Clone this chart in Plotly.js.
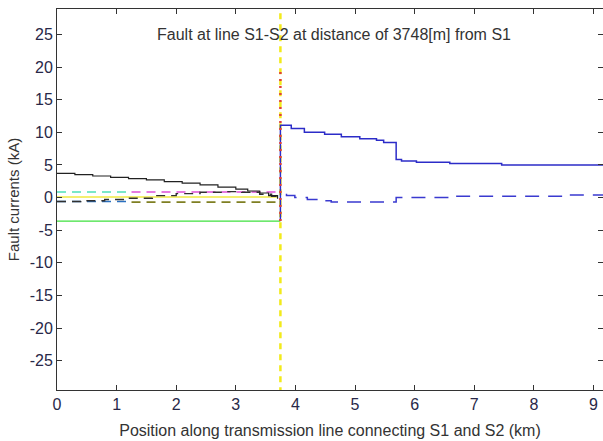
<!DOCTYPE html>
<html>
<head>
<meta charset="utf-8">
<script src="https://cdn.plot.ly/plotly-3.0.1.min.js"></script>
<style>html,body{margin:0;padding:0;background:#fff;}#chart{width:603px;height:441px;}</style>
</head>
<body>
<div id="chart"></div>
<script>
// Fault location (km)
const faultX = 3.748;

// Left section (S1 side) series
const blackX = [0, 0.3, 0.6, 0.9, 1.2, 1.5, 1.8, 2.1, 2.4, 2.7, 3.0, 3.2, 3.4, 3.55, 3.7];
const blackY = [3.7, 3.5, 3.3, 3.1, 2.9, 2.7, 2.45, 2.2, 1.95, 1.6, 1.3, 1.0, 0.7, 0.3, -0.2];

const blackDashX = [0, 0.4, 0.8, 1.2, 1.6, 2.0, 2.4, 2.8, 3.1, 3.4, 3.6, 3.7];
const blackDashY = [-0.6, -0.5, -0.3, -0.1, 0.3, 0.6, 0.8, 0.9, 0.8, 0.5, 0.2, 0.0];

const yellowX = [0, 3.7];
const yellowY = [0.1, 0.1];

const cyanX = [0, 1.25];
const cyanY = [0.85, 0.85];

const magentaX = [1.25, 3.748];
const magentaY = [0.85, 0.85];

const blueDashLeftX = [0, 1.25];
const blueDashLeftY = [-0.6, -0.6];

const oliveX = [1.25, 3.748];
const oliveY = [-0.7, -0.7];

const greenX = [0, 3.748];
const greenY = [-3.6, -3.6];

// Right section (S2 side) series
const blueX = [3.748, 3.748, 3.93, 4.15, 4.49, 4.77, 5.08, 5.36, 5.48, 5.69, 5.78, 6.03, 6.59, 7.46, 9.2];
const blueY = [-3.6, 11.1, 10.6, 10.0, 9.7, 9.3, 9.0, 8.8, 8.45, 5.85, 5.6, 5.4, 5.2, 5.0, 5.0];

const blueDashX = [3.85, 3.85, 3.99, 4.2, 4.47, 4.6, 5.69, 6.65, 8.6, 9.2];
const blueDashY = [0.6, 0.3, 0.0, -0.3, -0.5, -0.7, 0.0, 0.2, 0.4, 0.4];

// Fault marker lines
const faultLineY = [-30, 30];
const redDotY = [-3.6, 20];

const xTicks = [0, 1, 2, 3, 4, 5, 6, 7, 8, 9];
const yTicks = [-25, -20, -15, -10, -5, 0, 5, 10, 15, 20, 25];

const titleText = 'Fault at line S1-S2 at distance of 3748[m] from S1';
const xTitle = 'Position along transmission line connecting S1 and S2 (km)';
const yTitle = 'Fault currents (kA)';

function tr(x, y, color, dash, width, shape) {
  return {x: x, y: y, type: 'scatter', mode: 'lines',
    line: {color: color, dash: dash || 'solid', width: width || 1.3, shape: shape || 'linear'},
    hoverinfo: 'skip', showlegend: false};
}

const data = [
  tr([faultX, faultX], faultLineY, '#f2ea1a', '6px,5px', 2.5),
  tr(greenX, greenY, '#3ee03e', 'solid', 1.3),
  tr(yellowX, yellowY, '#f4ef70', 'solid', 2),
  tr(cyanX, cyanY, '#4fe0b8', '9px,6px', 1.6),
  tr(magentaX, magentaY, '#e050d8', '9px,6px', 1.6),
  tr(blueDashLeftX, blueDashLeftY, '#2a70c0', '9px,6px', 1.6),
  tr(oliveX, oliveY, '#7f7f22', '9px,6px', 1.6),
  tr(blackDashX, blackDashY, '#303030', '9px,6px', 1.4, 'hv'),
  tr(blackX, blackY, '#222222', 'solid', 1.2, 'hv'),
  tr(blueX, blueY, '#2c2cc8', 'solid', 1.5, 'hv'),
  tr(blueDashX, blueDashY, '#3a3ad0', '14px,9px', 1.5, 'hv'),
  tr([faultX, faultX], redDotY, '#e0403a', '2px,5px', 2.5)
];

const fontFam = '"Liberation Sans", Arial, sans-serif';
const layout = {
  width: 603, height: 441,
  margin: {l: 57, r: 0, t: 9, b: 51, pad: 0},
  paper_bgcolor: '#ffffff', plot_bgcolor: '#ffffff',
  font: {family: fontFam, size: 16, color: '#282848'},
  showlegend: false,
  xaxis: {
    range: [0, 9.16], tickvals: xTicks, ticktext: xTicks.map(String),
    ticks: 'inside', ticklen: 5, tickcolor: '#333', tickwidth: 1,
    showline: true, linecolor: '#333', linewidth: 1, mirror: 'allticks',
    showgrid: false, zeroline: false,
    tickfont: {family: fontFam, size: 16, color: '#282848'},
    title: {text: xTitle, font: {family: fontFam, size: 16, color: '#333'}, standoff: 12}
  },
  yaxis: {
    range: [-29.5, 28.9], tickvals: yTicks, ticktext: yTicks.map(String),
    ticks: 'inside', ticklen: 5, tickcolor: '#333', tickwidth: 1,
    showline: true, linecolor: '#333', linewidth: 1, mirror: 'allticks',
    showgrid: false, zeroline: false,
    tickfont: {family: fontFam, size: 16, color: '#282848'},
    title: {text: yTitle, font: {family: fontFam, size: 15, color: '#333'}, standoff: 6}
  },
  annotations: [{
    text: titleText, xref: 'paper', yref: 'paper', x: 0.508, y: 0.933,
    xanchor: 'center', yanchor: 'middle', showarrow: false,
    font: {family: fontFam, size: 16, color: '#333'}
  }]
};

Plotly.newPlot('chart', data, layout, {staticPlot: true, displayModeBar: false});
</script>
</body>
</html>
